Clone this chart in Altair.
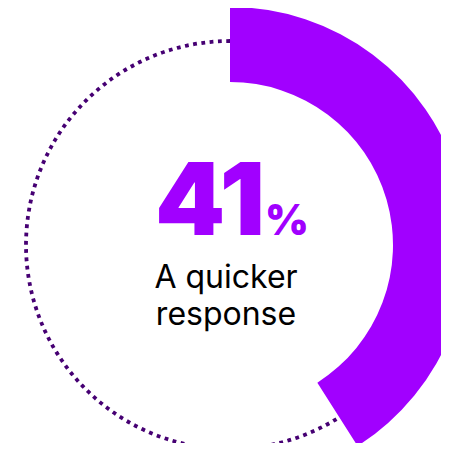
import altair as alt
import pandas as pd

share_label = ["A quicker response"]
share_value = [41]
ring_total = [100]
big_number = ["41"]
pct_sign = ["%"]
caption_lines = ["A quicker", "response"]

share_df = pd.DataFrame({"label": share_label, "value": share_value})
ring_df = pd.DataFrame({"value": ring_total})
num_df = pd.DataFrame({"t": big_number})
pct_df = pd.DataFrame({"t": pct_sign})
cap_df = pd.DataFrame({"t": [caption_lines]})

CX, CY = 222, 237
theta_scale = alt.Scale(domain=[0, 100], range=[0, 6.283185307179586])

ring = alt.Chart(ring_df).mark_arc(
    innerRadius=0, outerRadius=204, filled=False, fill="transparent",
    stroke="#460073", strokeWidth=3.8, strokeDash=[3.8, 4.52], strokeCap="butt"
).encode(
    theta=alt.Theta("value:Q", scale=theta_scale),
    x=alt.value(CX), y=alt.value(CY)
)

arc = alt.Chart(share_df).mark_arc(
    innerRadius=163, outerRadius=238, color="#A100FF"
).encode(
    theta=alt.Theta("value:Q", scale=theta_scale),
    x=alt.value(CX), y=alt.value(CY)
)

num = alt.Chart(num_df).mark_text(
    font="Inter", fontWeight=900, fontSize=100, color="#A100FF",
    align="right", baseline="alphabetic"
).encode(text="t:N", x=alt.value(257), y=alt.value(227))

pct = alt.Chart(pct_df).mark_text(
    font="Inter", fontWeight=900, fontSize=42, color="#A100FF",
    align="left", baseline="alphabetic"
).encode(text="t:N", x=alt.value(257), y=alt.value(227))

cap = alt.Chart(cap_df).mark_text(
    font="Inter", fontWeight=400, fontSize=32, color="#000000",
    align="center", baseline="alphabetic", lineHeight=37
).encode(text="t", x=alt.value(218), y=alt.value(280))

chart = alt.layer(ring, arc, num, pct, cap).properties(
    width=433, height=435, padding=0, autosize=alt.AutoSizeParams(type="none")
).configure_view(stroke=None)

chart.save("out.html", embed_options={"renderer": "svg", "actions": False})
